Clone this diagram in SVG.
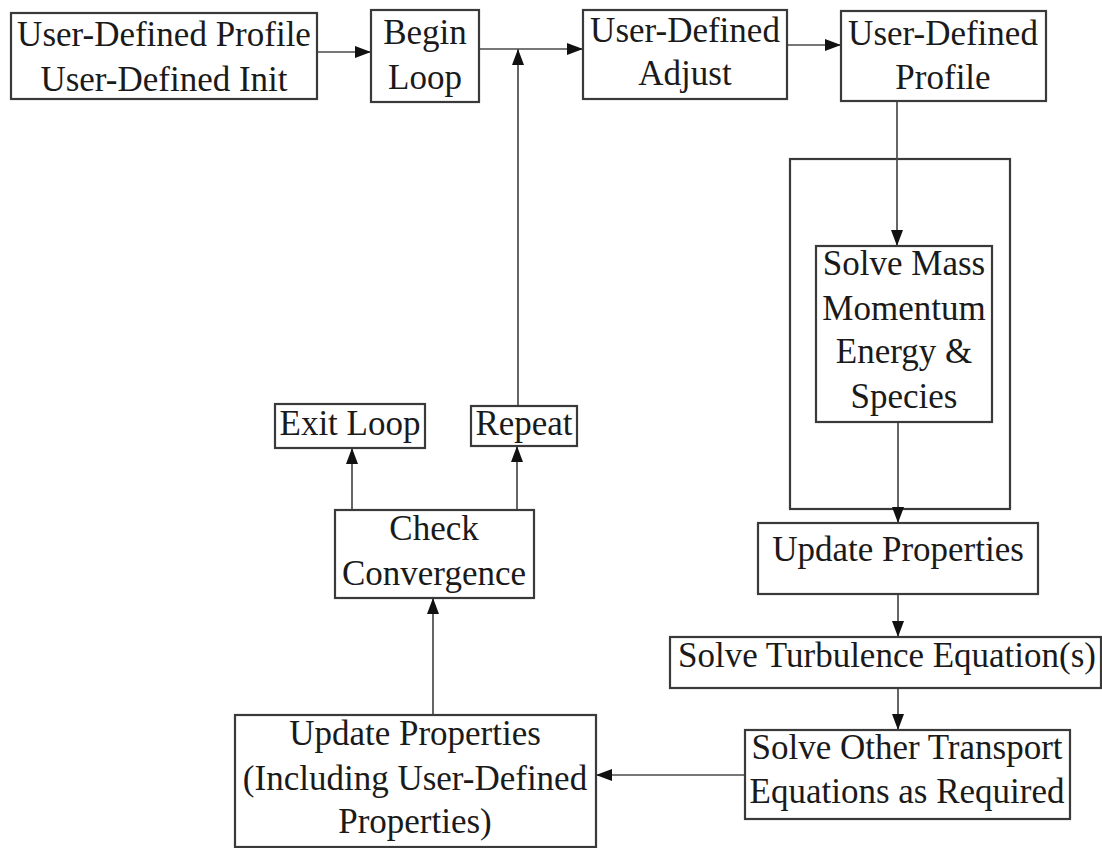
<svg xmlns="http://www.w3.org/2000/svg" width="1102" height="848" viewBox="0 0 1102 848">
<defs>
<style>
.box{fill:#fff;stroke:#3a3a3a;stroke-width:2.2}
.frame{fill:none;stroke:#3a3a3a;stroke-width:2.2}
.t{font-family:"Liberation Serif","Times New Roman",serif;font-size:35px;fill:#1a1a1a;text-anchor:middle}
.c{fill:none;stroke:#4a4a4a;stroke-width:1.7}
</style>
<marker id="ah" viewBox="0 0 16 12" refX="16" refY="6" markerWidth="16" markerHeight="12" markerUnits="userSpaceOnUse" orient="auto">
<path d="M0,0 L16,6 L0,12 Z" fill="#111"/>
</marker>
</defs>
<rect width="1102" height="848" fill="#fff"/>
<g id="container"><rect class="frame" x="790" y="159" width="220" height="350"/></g>
<g id="connectors">
<line class="c" x1="317" y1="52" x2="371" y2="52" marker-end="url(#ah)"/>
<line class="c" x1="479" y1="49" x2="583" y2="49" marker-end="url(#ah)"/>
<line class="c" x1="787" y1="45" x2="841" y2="45" marker-end="url(#ah)"/>
<line class="c" x1="897" y1="101" x2="897" y2="246" marker-end="url(#ah)"/>
<line class="c" x1="898" y1="422" x2="898" y2="523" marker-end="url(#ah)"/>
<line class="c" x1="898" y1="594" x2="898" y2="637" marker-end="url(#ah)"/>
<line class="c" x1="898" y1="688" x2="898" y2="730" marker-end="url(#ah)"/>
<line class="c" x1="745" y1="775" x2="596" y2="775" marker-end="url(#ah)"/>
<line class="c" x1="433" y1="715" x2="433" y2="598" marker-end="url(#ah)"/>
<line class="c" x1="352" y1="510" x2="352" y2="448" marker-end="url(#ah)"/>
<line class="c" x1="517" y1="510" x2="517" y2="446" marker-end="url(#ah)"/>
<line class="c" x1="518" y1="406" x2="518" y2="49" marker-end="url(#ah)"/>
</g>
<g id="n-init"><rect class="box" x="11" y="13" width="306" height="86"/>
<text class="t" x="164" y="46">User-Defined Profile</text><text class="t" x="164" y="91">User-Defined Init</text></g>
<g id="n-begin"><rect class="box" x="371" y="10" width="108" height="92"/>
<text class="t" x="425" y="44">Begin</text><text class="t" x="425" y="89">Loop</text></g>
<g id="n-adjust"><rect class="box" x="583" y="10" width="204" height="89"/>
<text class="t" x="685" y="42">User-Defined</text><text class="t" x="685" y="85">Adjust</text></g>
<g id="n-profile"><rect class="box" x="841" y="11" width="205" height="90"/>
<text class="t" x="943" y="45">User-Defined</text><text class="t" x="943" y="89">Profile</text></g>
<g id="n-solvemass"><rect class="box" x="816" y="246" width="176" height="176"/>
<text class="t" x="904" y="275">Solve Mass</text><text class="t" x="904" y="320">Momentum</text><text class="t" x="904" y="363">Energy &amp;</text><text class="t" x="904" y="408">Species</text></g>
<g id="n-update1"><rect class="box" x="758" y="523" width="280" height="71"/>
<text class="t" x="898" y="561">Update Properties</text></g>
<g id="n-turb"><rect class="box" x="670" y="637" width="431" height="51"/>
<text class="t" x="887" y="667">Solve Turbulence Equation(s)</text></g>
<g id="n-other"><rect class="box" x="745" y="730" width="325" height="89"/>
<text class="t" x="907" y="759">Solve Other Transport</text><text class="t" x="907" y="803">Equations as Required</text></g>
<g id="n-update2"><rect class="box" x="235" y="715" width="361" height="132"/>
<text class="t" x="415" y="745">Update Properties</text><text class="t" x="415" y="790">(Including User-Defined</text><text class="t" x="415" y="833">Properties)</text></g>
<g id="n-check"><rect class="box" x="335" y="510" width="199" height="88"/>
<text class="t" x="434" y="540">Check</text><text class="t" x="434" y="585">Convergence</text></g>
<g id="n-exit"><rect class="box" x="275" y="404" width="150" height="44"/>
<text class="t" x="350" y="435">Exit Loop</text></g>
<g id="n-repeat"><rect class="box" x="471" y="406" width="106" height="40"/>
<text class="t" x="524" y="435">Repeat</text></g>
</svg>
